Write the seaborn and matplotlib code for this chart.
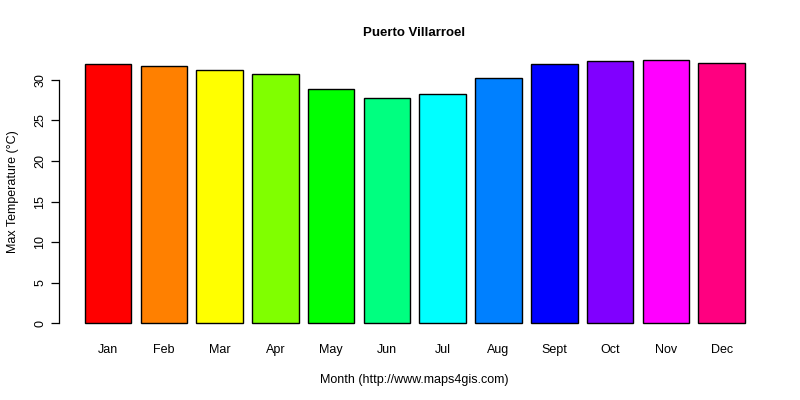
import pandas as pd
import seaborn as sns
import matplotlib
matplotlib.use("Agg")
import matplotlib.pyplot as plt

# max temperature per month
meses = ["Jan", "Feb", "Mar", "Apr", "May", "Jun", "Jul", "Aug", "Sept", "Oct", "Nov", "Dec"]
temp_max = [32.0, 31.7, 31.2, 30.7, 28.9, 27.8, 28.2, 30.2, 32.0, 32.3, 32.5, 32.1]
cores = ["#FF0000", "#FF8000", "#FFFF00", "#80FF00", "#00FF00", "#00FF80",
         "#00FFFF", "#0080FF", "#0000FF", "#8000FF", "#FF00FF", "#FF0080"]
yticks = [0, 5, 10, 15, 20, 25, 30]

tabela = pd.DataFrame({"mes": meses, "temp": temp_max})

sns.set_style("white")
plt.rcParams["font.family"] = ["Liberation Sans", "DejaVu Sans"]
plt.rcParams["text.color"] = "black"
plt.rcParams["axes.labelcolor"] = "black"
plt.rcParams["xtick.color"] = "black"
plt.rcParams["ytick.color"] = "black"

fig = plt.figure(figsize=(8, 4), dpi=100)
ax = fig.add_axes([0.07375, 0.165, 0.8875, 0.7125])

sns.barplot(data=tabela, x="mes", y="temp", hue="mes", palette=cores, legend=False,
            width=0.833, edgecolor="black", linewidth=1, saturation=1, ax=ax)

ax.set_xlim(-0.88, 11.85)
ax.set_ylim(-1.3, 33.8)

for s in ["top", "right", "bottom"]:
    ax.spines[s].set_visible(False)
ax.spines["left"].set_bounds(0, 30)
ax.spines["left"].set_color("black")
ax.spines["left"].set_linewidth(0.9)

ax.set_yticks(yticks)
ax.set_yticklabels([str(v) for v in yticks], rotation=90, va="center", fontsize=9)
ax.tick_params(axis="y", direction="out", length=6, width=0.9, color="black", pad=3, left=True)
ax.tick_params(axis="x", length=0, pad=7, labelsize=9)

ax.set_xlabel("Month (http://www.maps4gis.com)", fontsize=9, labelpad=13)
ax.set_ylabel("Max Temperature (°C)", fontsize=9, labelpad=11)
ax.set_title("Puerto Villarroel", fontsize=9.5, fontweight="bold", pad=9)

plt.savefig("out.png", dpi=100)
